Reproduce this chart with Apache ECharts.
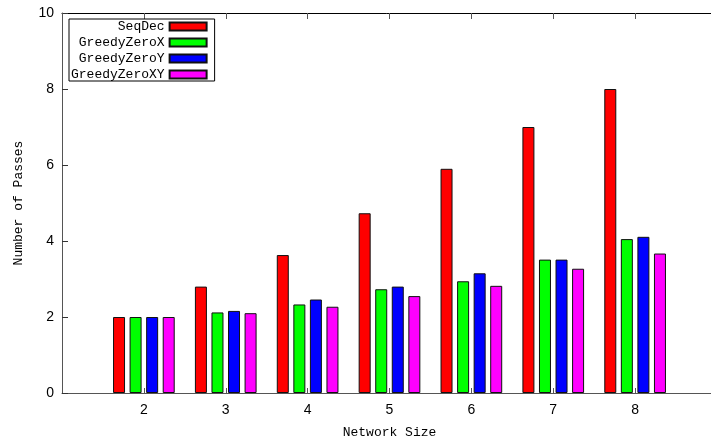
<!DOCTYPE html>
<html>
<head>
<meta charset="utf-8">
<script src="https://cdn.jsdelivr.net/npm/echarts@6/dist/echarts.min.js"></script>
<style>
  html, body { margin: 0; padding: 0; background: #fff; }
  #chart { width: 711px; height: 442px; }
</style>
</head>
<body>
<div id="chart"></div>
<script>
// axis runs from 1 to 9, only 2..8 carry bars
const axisSizes = ['1', '2', '3', '4', '5', '6', '7', '8', '9']
const networkSizes = ['2', '3', '4', '5', '6', '7', '8']
const seqDec = [2.0, 2.8, 3.63, 4.73, 5.9, 7.0, 8.0]
const greedyZeroX = [2.0, 2.12, 2.33, 2.73, 2.94, 3.51, 4.05]
const greedyZeroY = [2.0, 2.16, 2.46, 2.8, 3.15, 3.51, 4.11]
const greedyZeroXY = [2.0, 2.1, 2.27, 2.55, 2.82, 3.27, 3.67]
const yTicks = [0, 2, 4, 6, 8, 10]

const monoFont = '"Liberation Mono", "DejaVu Sans Mono", monospace'
const labelFont = '"Liberation Sans", Arial, sans-serif'

function onAxis(values) {
  return axisSizes.map(size => {
    const i = networkSizes.indexOf(size)
    return i >= 0 ? values[i] : null
  })
}

function barSeries(name, color, values) {
  return {
    name: name,
    type: 'bar',
    barWidth: 12,
    barGap: '38%',
    itemStyle: {
      color: color,
      borderColor: '#111',
      borderWidth: 1
    },
    data: onAxis(values)
  }
}

const chart = echarts.init(document.getElementById('chart'))
chart.setOption({
  animation: false,
  backgroundColor: '#fff',
  grid: {
    left: 62,
    right: -6,
    top: 13,
    bottom: 49,
    outerBoundsMode: 'none',
    containLabel: false
  },
  legend: {
    orient: 'vertical',
    left: 69,
    top: 19,
    align: 'right',
    icon: 'rect',
    itemWidth: 37,
    itemHeight: 8,
    itemGap: 3,
    padding: [1, 7, 0, 2],
    borderColor: '#000',
    borderWidth: 1,
    textStyle: {
      fontFamily: monoFont,
      fontSize: 13,
      color: '#000'
    },
    data: ['SeqDec', 'GreedyZeroX', 'GreedyZeroY', 'GreedyZeroXY']
  },
  xAxis: [
    {
      type: 'category',
      position: 'bottom',
      boundaryGap: false,
      data: axisSizes,
      name: 'Network Size',
      nameLocation: 'middle',
      nameGap: 33,
      nameTextStyle: {
        fontFamily: monoFont,
        fontSize: 13,
        color: '#000'
      },
      axisLine: { onZero: false, lineStyle: { color: '#555', width: 1 } },
      axisTick: { inside: true, length: 5, lineStyle: { color: '#555' } },
      axisLabel: {
        margin: 10,
        fontFamily: labelFont,
        fontSize: 14,
        color: '#000',
        formatter: v => (networkSizes.indexOf(v) >= 0 ? v : '')
      },
      splitLine: { show: false }
    },
    {
      type: 'category',
      position: 'top',
      boundaryGap: false,
      data: axisSizes,
      axisLine: { onZero: false, lineStyle: { color: '#000', width: 1 } },
      axisTick: { inside: true, length: 6, lineStyle: { color: '#555' } },
      axisLabel: { show: false },
      splitLine: { show: false }
    }
  ],
  yAxis: [
    {
      type: 'value',
      min: yTicks[0],
      max: yTicks[yTicks.length - 1],
      interval: 2,
      name: 'Number of Passes',
      nameLocation: 'middle',
      nameGap: 37,
      nameTextStyle: {
        fontFamily: monoFont,
        fontSize: 13,
        color: '#000'
      },
      axisLine: { show: true, onZero: false, lineStyle: { color: '#555', width: 1 } },
      axisTick: { show: true, inside: true, length: 6, lineStyle: { color: '#333' } },
      axisLabel: {
        margin: 8,
        fontFamily: labelFont,
        fontSize: 14,
        color: '#000'
      },
      splitLine: { show: false }
    },
    {
      type: 'value',
      position: 'right',
      min: yTicks[0],
      max: yTicks[yTicks.length - 1],
      interval: 2,
      axisLine: { show: true, onZero: false, lineStyle: { color: '#555', width: 1 } },
      axisTick: { show: true, inside: true, length: 6, lineStyle: { color: '#bbb' } },
      axisLabel: { show: false },
      splitLine: { show: false }
    }
  ],
  series: [
    barSeries('SeqDec', '#ff0000', seqDec),
    barSeries('GreedyZeroX', '#00ff00', greedyZeroX),
    barSeries('GreedyZeroY', '#0000ff', greedyZeroY),
    barSeries('GreedyZeroXY', '#ff00ff', greedyZeroXY)
  ]
})
</script>
</body>
</html>
